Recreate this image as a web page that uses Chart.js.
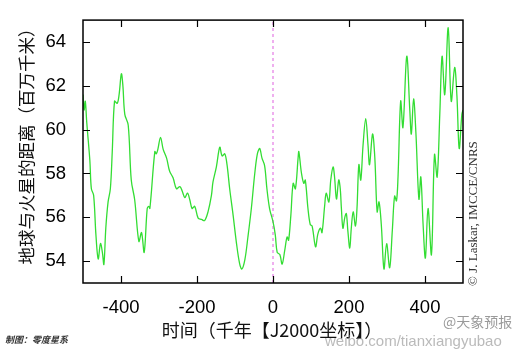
<!DOCTYPE html>
<html>
<head>
<meta charset="utf-8">
<script src="https://cdn.jsdelivr.net/npm/chart.js@4/dist/chart.umd.min.js"></script>
<style>
    html, body { margin: 0; padding: 0; background: #fff; }
    #wrap { width: 518px; height: 353px; }
</style>
</head>
<body>
<div id="wrap"><canvas id="marte" width="518" height="353"></canvas></div>
<script>
// tempo in migliaia di anni (J2000) e distanza minima Terra-Marte (milioni di km)
const anni = [
    -500, -497, -494, -490, -482, -478, -472, -466, -460, -454, -449, -445, -440, -434, -428, -423,
    -417, -410, -405, -399, -395, -390, -381, -373, -364, -353, -346, -339, -331, -327, -324, -311,
    -307, -303, -296, -289, -280, -272, -263, -254, -245, -239, -232, -225, -219, -213, -206, -197,
    -188, -180, -171, -162, -158, -149, -140, -134, -127, -121, -114, -105, -96, -88, -82, -74,
    -66, -57, -48, -41, -35, -29, -22, -16, -9, 0, 6, 11, 18, 24, 31, 37,
    41, 47, 53, 59, 66, 68, 75, 81, 85, 92, 98, 103, 112, 118, 125, 129,
    136, 140, 147, 152, 158, 162, 167, 173, 177, 180, 184, 189, 193, 197, 202, 206,
    211, 217, 221, 226, 231, 237, 244, 250, 254, 262, 268, 274, 279, 285, 292, 299,
    307, 314, 320, 325, 329, 336, 342, 352, 360, 364, 370, 376, 384, 389, 395, 401,
    408, 417, 425, 432, 439, 445, 452, 461, 469, 478, 484, 490, 497, 500
];
const distanza = [
    61.6, 60.9, 61.3, 60.3, 58.6, 57.3, 57.0, 55.2, 54.1, 54.8, 54.4, 53.85, 55.5, 56.7, 57.3, 59.0,
    61.3, 61.2, 61.6, 62.55, 62.0, 60.7, 60.2, 57.7, 56.8, 54.9, 55.3, 54.4, 56.4, 56.5, 56.4, 59.0,
    58.9, 59.1, 59.65, 59.1, 58.7, 58.1, 57.8, 57.3, 57.4, 57.2, 56.9, 57.1, 56.8, 56.4, 56.5, 55.96,
    55.9, 55.85, 56.25, 57.0, 57.6, 58.3, 59.2, 58.8, 58.9, 58.4, 57.3, 56.1, 54.8, 53.9, 53.64, 54.07,
    55.1, 56.4, 58.0, 58.9, 59.14, 58.7, 58.35, 57.3, 56.4, 55.8, 55.2, 54.4, 54.3, 53.86, 54.5, 55.1,
    54.95, 56.1, 57.55, 57.3, 58.7, 59.0, 58.0, 57.55, 57.7, 56.4, 55.67, 55.6, 54.65, 55.23, 55.5, 55.3,
    56.54, 57.1, 56.7, 57.7, 58.3, 57.84, 56.83, 57.7, 57.3, 56.4, 55.5, 56.0, 56.17, 55.38, 54.6, 55.5,
    56.25, 55.6, 56.4, 58.4, 57.7, 59.3, 60.5, 59.3, 58.4, 59.8, 58.7, 56.25, 56.7, 55.67, 53.64, 54.8,
    53.7, 55.4, 56.97, 56.75, 57.84, 61.3, 60.1, 63.35, 60.9, 59.8, 61.4, 59.87, 56.83, 57.84, 55.67, 54.14,
    56.4, 54.3, 58.86, 57.84, 60.74, 63.35, 61.6, 64.65, 61.3, 62.84, 61.54, 59.14, 60.7, 60.9
];
const tickX = [-400, -200, 0, 200, 400];
const tickY = [54, 56, 58, 60, 62, 64];
const lineaOggi = [0, 0];
const lineaOggiY = [53, 65];

const FONT_NUM = "'Liberation Sans', Arial, sans-serif";
const FONT_CJK = "'Noto Sans CJK SC', 'Noto Sans', sans-serif";

// plugin: cornice, tacche interne (stile gnuplot) e testi extra
const cornice = {
    id: "cornice",
    afterDraw(chart) {
        const { ctx, chartArea: a, scales } = chart;
        ctx.save();
        ctx.strokeStyle = "#000";
        ctx.lineWidth = 1.5;
        ctx.strokeRect(a.left, a.top, a.right - a.left, a.bottom - a.top);
        ctx.lineWidth = 1.2;
        ctx.beginPath();
        tickX.forEach((v) => {
            const px = Math.round(scales.x.getPixelForValue(v)) + 0.5;
            ctx.moveTo(px, a.bottom); ctx.lineTo(px, a.bottom - 7);
            ctx.moveTo(px, a.top); ctx.lineTo(px, a.top + 7);
        });
        tickY.forEach((v) => {
            const py = Math.round(scales.y.getPixelForValue(v)) + 0.5;
            ctx.moveTo(a.left, py); ctx.lineTo(a.left + 7, py);
            ctx.moveTo(a.right, py); ctx.lineTo(a.right - 7, py);
        });
        ctx.stroke();

        // titolo asse y
        ctx.fillStyle = "#111";
        ctx.font = "17.5px " + FONT_CJK;
        ctx.textAlign = "center";
        ctx.textBaseline = "middle";
        ctx.save();
        ctx.translate(26, 142);
        ctx.rotate(-Math.PI / 2);
        ctx.fillText("地球与火星的距离（百万千米）", 0, 0);
        ctx.restore();

        // titolo asse x
        ctx.font = "18px " + FONT_CJK;
        ctx.fillText("时间（千年【J2000坐标】）", 272, 330);

        // copyright ruotato
        ctx.fillStyle = "#333";
        ctx.font = "13px 'Liberation Serif', 'DejaVu Serif', serif";
        ctx.textAlign = "left";
        ctx.save();
        ctx.translate(474, 286);
        ctx.rotate(-Math.PI / 2);
        ctx.fillText("© J. Laskar, IMCCE/CNRS", 0, 0);
        ctx.restore();

        // crediti
        ctx.font = "italic bold 9px " + FONT_CJK;
        ctx.fillStyle = "#333";
        ctx.fillText("制图：零度星系", 5, 340);

        // filigrana
        ctx.fillStyle = "rgba(120,120,120,0.75)";
        ctx.font = "14px " + FONT_CJK;
        ctx.fillText("@天象预报", 443, 322);
        ctx.fillStyle = "rgba(140,140,140,0.6)";
        ctx.font = "15px " + FONT_NUM;
        ctx.fillText("weibo.com/tianxiangyubao", 325, 342);
        ctx.restore();
    },
};

function creaGrafico() {
    const ctx = document.getElementById("marte").getContext("2d");
    return new Chart(ctx, {
        type: "line",
        data: {
            datasets: [
                {
                    data: anni.map((t, i) => ({ x: t, y: distanza[i] })),
                    borderColor: "#33dd33",
                    borderWidth: 1.3,
                    pointRadius: 0,
                    tension: 0.35,
                    fill: false,
                },
                {
                    data: lineaOggi.map((t, i) => ({ x: t, y: lineaOggiY[i] })),
                    borderColor: "#e060e0",
                    borderWidth: 1,
                    borderDash: [3, 3],
                    pointRadius: 0,
                },
            ],
        },
        options: {
            responsive: false,
            animation: false,
            layout: { padding: { left: 0, right: 55, top: 7, bottom: 0 } },
            plugins: {
                legend: { display: false },
                tooltip: { enabled: false },
            },
            scales: {
                x: {
                    type: "linear",
                    min: -500,
                    max: 500,
                    afterBuildTicks: (s) => { s.ticks = tickX.map((v) => ({ value: v })); },
                    afterFit: (s) => { s.height = 70; },
                    grid: { display: false },
                    border: { display: false },
                    ticks: { color: "#000", padding: 6, maxRotation: 0, font: { size: 18.5, family: FONT_NUM } },
                },
                y: {
                    min: 53,
                    max: 65,
                    afterBuildTicks: (s) => { s.ticks = tickY.map((v) => ({ value: v })); },
                    afterFit: (s) => { s.width = 83; },
                    grid: { display: false },
                    border: { display: false },
                    ticks: { color: "#000", padding: 9, font: { size: 18.5, family: FONT_NUM } },
                },
            },
        },
        plugins: [cornice],
    });
}

document.addEventListener("DOMContentLoaded", function () {
    creaGrafico();
});
</script>
</body>
</html>
